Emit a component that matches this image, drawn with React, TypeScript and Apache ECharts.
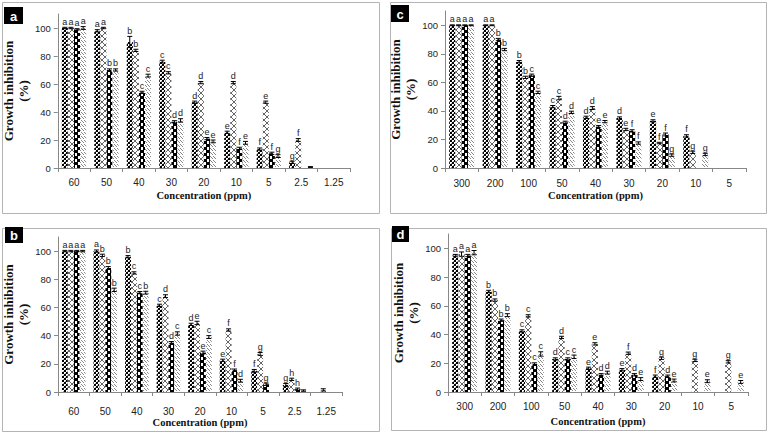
import React, { useEffect, useRef } from 'react';
import * as echarts from 'echarts';

// ---- categories & ticks ----
const catsLow = ['60', '50', '40', '30', '20', '10', '5', '2.5', '1.25'];
const catsHigh = ['300', '200', '100', '50', '40', '30', '20', '10', '5'];
const yTicks = [0, 20, 40, 60, 80, 100];

// ---- panel a ----
const a1 = [100, 98, 90, 76, 47, 25.5, 13.5, 4, 0];
const a2 = [100, 100, 84, 68, 61, 61, 47, 20, 0];
const a3 = [99, 70, 54, 33, 21, 14, 10.5, 0, 0];
const a4 = [100, 70, 66, 34, 19, 18, 8.5, 0.7, 0];
const aE1 = [0.5, 0.8, 4, 1, 0.8, 0.8, 0.8, 0.8, 0];
const aE2 = [0.5, 0.5, 0.8, 0.8, 0.8, 0.8, 0.8, 1, 0];
const aE3 = [0.5, 0.8, 0.8, 0.8, 0.8, 0.8, 0.8, 0, 0];
const aE4 = [1, 0.8, 1, 1.2, 1, 1, 1, 0.3, 0];
const aL1 = ['a', 'a', 'b', 'c', 'd', 'e', 'f', 'g', ''];
const aL2 = ['a', 'a', 'b', 'c', 'd', 'd', 'e', 'f', ''];
const aL3 = ['a', 'b', 'c', 'd', 'e', 'f', 'f', '', ''];
const aL4 = ['a', 'b', 'c', 'd', 'e', 'e', 'g', '', ''];

// ---- panel b ----
const b1 = [100, 100, 96, 61.5, 48, 22.5, 15, 5, 0];
const b2 = [100, 97, 84.5, 68, 49, 44, 27, 9, 1.5];
const b3 = [100, 88, 70.5, 35, 28, 15.5, 5.5, 2, 0];
const b4 = [100, 72.5, 70.5, 41.5, 39, 8, 0, 1, 0];
const bE1 = [0.5, 0.8, 0.8, 0.8, 0.8, 0.8, 1, 1, 0];
const bE2 = [0.5, 0.8, 0.8, 1, 1.2, 0.8, 1, 0.8, 0.8];
const bE3 = [0.5, 1, 0.8, 0.8, 1, 0.8, 0.8, 0.8, 0];
const bE4 = [0.5, 1.2, 1, 1.2, 1, 1, 0, 0.5, 0];
const bL1 = ['a', 'a', 'b', 'c', 'd', 'e', 'f', 'g', ''];
const bL2 = ['a', 'b', 'c', 'd', 'e', 'f', 'g', 'h', ''];
const bL3 = ['a', 'b', 'c', 'd', 'e', 'f', 'g', 'h', ''];
const bL4 = ['a', 'b', 'b', 'c', 'c', 'd', '', '', ''];

// ---- panel c ----
const c1 = [100, 100, 74.5, 43, 35.5, 35, 33, 22.5, 0];
const c2 = [100, 100, 63.5, 49, 42, 27, 17.5, 11, 0];
const c3 = [100, 90, 65, 32, 29, 26, 23.5, 0, 0];
const c4 = [100, 83, 53, 39, 32.5, 17.5, 9, 9.5, 0];
const cE1 = [0.3, 0.3, 0.8, 0.8, 0.8, 0.8, 0.8, 0.8, 0];
const cE2 = [0.3, 0.3, 0.8, 1.2, 1, 0.8, 0.5, 0.8, 0];
const cE3 = [0.3, 0.8, 0.8, 0.8, 0.8, 0.8, 1, 0, 0];
const cE4 = [0.3, 0.8, 0.8, 0.8, 0.8, 0.8, 0.8, 0.8, 0];
const cL1 = ['a', 'a', 'b', 'c', 'd', 'd', 'e', 'f', ''];
const cL2 = ['a', 'a', 'b', 'c', 'd', 'e', 'f', 'g', ''];
const cL3 = ['a', 'b', 'c', 'd', 'e', 'f', 'f', '', ''];
const cL4 = ['a', 'b', 'c', 'd', 'e', 'f', 'g', 'g', ''];

// ---- panel d ----
const d1 = [95, 70, 42.5, 23, 16.5, 15.5, 11, 0, 0];
const d2 = [96, 64, 53, 38, 33.5, 27, 23.5, 22, 21];
const d3 = [95, 50, 19.5, 23, 12, 12, 11, 0, 0];
const d4 = [97, 53.5, 26.5, 24.5, 13.5, 9, 8, 7.5, 7];
const dE1 = [0.8, 0.8, 0.8, 0.8, 0.8, 0.8, 0.8, 0, 0];
const dE2 = [1.5, 0.8, 0.8, 0.8, 0.8, 0.8, 0.8, 0.8, 0.8];
const dE3 = [0.8, 0.8, 0.8, 0.8, 0.8, 0.8, 0.8, 0, 0];
const dE4 = [1.5, 1, 1.5, 1.2, 1, 1, 1, 1, 1];
const dL1 = ['a', 'b', 'c', 'd', 'e', 'e', 'f', '', ''];
const dL2 = ['a', 'b', 'c', 'd', 'e', 'f', 'g', 'g', 'g'];
const dL3 = ['a', 'b', 'c', 'c', 'd', 'd', 'd', '', ''];
const dL4 = ['a', 'b', 'c', 'c', 'd', 'e', 'e', 'e', 'e'];

const panelNames = ['a', 'b', 'c', 'd'];

function makePattern(kind: number) {
  const c = document.createElement('canvas');
  let w = 4, h = 4;
  if (kind === 0) { w = 4; h = 4; }
  if (kind === 1) { w = 6; h = 6; }
  if (kind === 2) { w = 6; h = 6; }
  if (kind === 3) { w = 6; h = 4; }
  c.width = w; c.height = h;
  const g = c.getContext('2d')!;
  const px = (x: number, y: number, col: string) => { g.fillStyle = col; g.fillRect(x, y, 1, 1); };
  if (kind === 0) {
    g.fillStyle = '#000'; g.fillRect(0, 0, 4, 4);
    g.fillStyle = '#fff'; g.fillRect(0, 0, 2, 2); g.fillRect(2, 2, 2, 2);
    px(1, 1, '#999'); px(3, 3, '#999');
  } else if (kind === 1) {
    g.fillStyle = '#fff'; g.fillRect(0, 0, 6, 6);
    for (let i = 0; i < 6; i++) { px(i, i, '#666'); px(5 - i, i, '#666'); }
  } else if (kind === 2) {
    g.fillStyle = '#000'; g.fillRect(0, 0, 6, 6);
    g.fillStyle = '#fff'; g.fillRect(0, 0, 2, 3); g.fillRect(3, 3, 2, 3);
  } else {
    g.fillStyle = '#fff'; g.fillRect(0, 0, 6, 4);
    const col = '#888';
    px(0, 0, col); px(1, 1, col); px(2, 2, col);
    px(3, 0, col); px(4, 1, col); px(5, 2, col);
  }
  return { image: c.toDataURL(), repeat: 'repeat', imageWidth: w, imageHeight: h };
}

const App: React.FC = () => {
  const ref = useRef<HTMLDivElement>(null);
  useEffect(() => {
    if (!ref.current) return;
    const chart = echarts.init(ref.current, undefined, { renderer: 'svg' });
    const patterns = [0, 1, 2, 3].map(makePattern);

    const panels = [
      { cats: catsLow, vals: [a1, a2, a3, a4], errs: [aE1, aE2, aE3, aE4], lets: [aL1, aL2, aL3, aL4],
        grid: { left: 57, top: 14, width: 293, height: 154 }, lm: 9, ng: 22,
        frame: [2.5, 2.5, 377, 211], box: [4, 7, 19, 17] },
      { cats: catsLow, vals: [b1, b2, b3, b4], errs: [bE1, bE2, bE3, bE4], lets: [bL1, bL2, bL3, bL4],
        grid: { left: 58, top: 237, width: 284, height: 155 }, lm: 14, ng: 23,
        frame: [2.5, 228.5, 377, 203], box: [5, 227, 18, 16] },
      { cats: catsHigh, vals: [c1, c2, c3, c4], errs: [cE1, cE2, cE3, cE4], lets: [cL1, cL2, cL3, cL4],
        grid: { left: 445, top: 11, width: 301, height: 157 }, lm: 10, ng: 22,
        frame: [390.5, 2.5, 376, 211], box: [391, 5, 18, 17] },
      { cats: catsHigh, vals: [d1, d2, d3, d4], errs: [dE1, dE2, dE3, dE4], lets: [dL1, dL2, dL3, dL4],
        grid: { left: 448, top: 234, width: 300, height: 158 }, lm: 9, ng: 24,
        frame: [391.5, 228.5, 375, 202], box: [392, 226, 17, 16] },
    ];

    const grids: any[] = [];
    const xAxes: any[] = [];
    const yAxes: any[] = [];
    const series: any[] = [];
    const graphics: any[] = [];

    panels.forEach((p, gi) => {
      grids.push({ ...p.grid, containLabel: false });
      xAxes.push({
        type: 'category', gridIndex: gi, data: p.cats,
        name: 'Concentration (ppm)', nameLocation: 'middle', nameGap: p.ng,
        nameTextStyle: { fontFamily: 'Liberation Serif', fontWeight: 'bold', fontSize: 10.5, color: '#111' },
        axisLine: { lineStyle: { color: '#888', width: 1 } },
        axisTick: { show: true, inside: false, length: 4, lineStyle: { color: '#888' } },
        axisLabel: { margin: p.lm, fontFamily: 'Liberation Sans', fontSize: 10, color: '#222' },
      });
      yAxes.push({
        type: 'value', gridIndex: gi, min: 0, max: 110, interval: 20,
        name: 'Growth inhibition\n(%)', nameLocation: 'middle', nameGap: 22, nameRotate: 90,
        nameTextStyle: { fontFamily: 'Liberation Serif', fontWeight: 'bold', fontSize: 13, color: '#111', lineHeight: 15 },
        axisLine: { show: true, lineStyle: { color: '#888', width: 1 } },
        axisTick: { show: true, length: 4, lineStyle: { color: '#888' }, customValues: yTicks },
        axisLabel: { margin: 7, fontFamily: 'Liberation Sans', fontSize: 9.5, color: '#222', customValues: yTicks },
        splitLine: { show: false },
      });
      p.vals.forEach((vals, si) => {
        series.push({
          type: 'bar', xAxisIndex: gi, yAxisIndex: gi, data: vals,
          barGap: '0%', barCategoryGap: '25%',
          itemStyle: { color: patterns[si] as any },
          silent: true,
        });
      });
      p.vals.forEach((vals, si) => {
        const errs = p.errs[si];
        const lets = p.lets[si];
        series.push({
          type: 'custom', xAxisIndex: gi, yAxisIndex: gi, z: 5, silent: true, clip: false,
          data: vals.map((v, i) => [i, v, errs[i]]),
          encode: { x: 0, y: 1 },
          renderItem: (params: any, api: any) => {
            const i = params.dataIndex;
            const v = api.value(1) as number;
            const e = api.value(2) as number;
            if (!v) return null;
            const band = p.grid.width / p.cats.length;
            const total = band * 0.75;
            const bw = total / 4;
            const cx = api.coord([api.value(0), 0])[0] - total / 2 + (si + 0.5) * bw;
            const yTop = api.coord([api.value(0), v + e])[1];
            const yBot = api.coord([api.value(0), Math.max(0, v - e)])[1];
            const children: any[] = [];
            if (e > 0) {
              const st = { stroke: '#000', lineWidth: 1 };
              children.push({ type: 'line', shape: { x1: cx, y1: yTop, x2: cx, y2: yBot }, style: st });
              children.push({ type: 'line', shape: { x1: cx - 2.5, y1: yTop, x2: cx + 2.5, y2: yTop }, style: st });
              children.push({ type: 'line', shape: { x1: cx - 2.5, y1: yBot, x2: cx + 2.5, y2: yBot }, style: st });
            }
            if (lets[i]) {
              children.push({
                type: 'text',
                style: { text: lets[i], x: cx, y: yTop - 1, align: 'center', verticalAlign: 'bottom',
                  fontSize: 9, fontFamily: 'Liberation Sans', fill: '#222' },
              });
            }
            return { type: 'group', children };
          },
        });
      });
      const [fx, fy, fw, fh] = p.frame;
      graphics.push({ type: 'rect', shape: { x: fx, y: fy, width: fw, height: fh },
        style: { fill: 'none', stroke: '#b4b4b4', lineWidth: 1 }, z: 0 });
      const [bx, by, bw2, bh] = p.box;
      graphics.push({ type: 'rect', shape: { x: bx, y: by, width: bw2, height: bh }, style: { fill: '#000' }, z: 10 });
      graphics.push({ type: 'text', x: bx + bw2 / 2, y: by + bh / 2 + 0.5, z: 11,
        style: { text: panelNames[gi], fill: '#fff', fontSize: 13, fontWeight: 'bold', fontFamily: 'Liberation Sans',
          align: 'center', verticalAlign: 'middle' } });
    });

    chart.setOption({
      animation: false,
      backgroundColor: '#fff',
      grid: grids,
      xAxis: xAxes,
      yAxis: yAxes,
      series,
      graphic: graphics,
    });
    return () => chart.dispose();
  }, []);
  return <div ref={ref} style={{ position: 'absolute', left: 0, top: 0, width: 772, height: 441 }} />;
};

export default App;
